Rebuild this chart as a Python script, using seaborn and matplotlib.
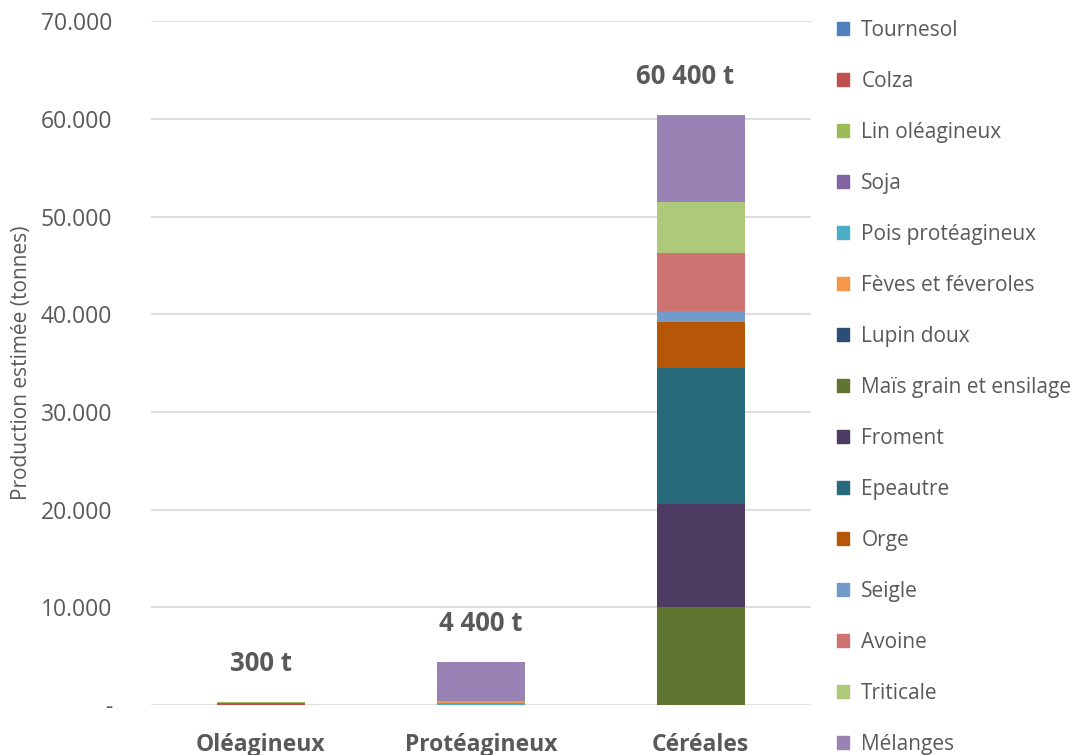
import numpy as np
import pandas as pd
import matplotlib
matplotlib.use("Agg")
import matplotlib.pyplot as plt
import matplotlib.patches as mpatches
import seaborn as sns

categories = ["Oléagineux", "Protéagineux", "Céréales"]
crops = ["Tournesol", "Colza", "Lin oléagineux", "Soja", "Pois protéagineux",
         "Fèves et féveroles", "Lupin doux", "Maïs grain et ensilage", "Froment",
         "Epeautre", "Orge", "Seigle", "Avoine", "Triticale", "Mélanges"]
colors = ["#4F81BD", "#C0504D", "#9BBB59", "#8064A2", "#4BACC6",
          "#F79646", "#2C4D75", "#5F7530", "#4D3B62",
          "#276A7C", "#B65708", "#729ACA", "#CD7371", "#AFC97A", "#9983B5"]

# tonnes per crop, one value per category (Oléagineux, Protéagineux, Céréales)
tournesol = [0, 0, 0]
colza = [250, 0, 0]
lin = [50, 0, 0]
soja = [0, 0, 0]
pois = [0, 200, 0]
feves = [0, 250, 0]
lupin = [0, 0, 0]
mais = [0, 0, 10000]
froment = [0, 0, 10600]
epeautre = [0, 0, 13900]
orge = [0, 0, 4700]
seigle = [0, 0, 1100]
avoine = [0, 0, 6000]
triticale = [0, 0, 5200]
melanges = [0, 3950, 8900]

totals_label = ["300 t", "4 400 t", "60 400 t"]
yticks = [0, 10000, 20000, 30000, 40000, 50000, 60000, 70000]
ytick_labels = ["-", "10.000", "20.000", "30.000", "40.000", "50.000", "60.000", "70.000"]

df = pd.DataFrame([tournesol, colza, lin, soja, pois, feves, lupin, mais, froment,
                   epeautre, orge, seigle, avoine, triticale, melanges],
                  index=crops, columns=categories)
# series are stacked in legend order, from the bottom up
cum = df.cumsum()

sns.set_theme(style="white")
plt.rcParams["font.family"] = ["Open Sans", "DejaVu Sans"]
grey = "#595959"

fig = plt.figure(figsize=(10.78, 7.55), dpi=100)
ax = fig.add_axes([0.140, 0.066, 0.612, 0.906])

# overlay cumulative bars, tallest first
for crop, col in reversed(list(zip(crops, colors))):
    sns.barplot(x=categories, y=cum.loc[crop].values, color=col, width=0.4,
                ax=ax, saturation=1, edgecolor="none", linewidth=0)

ax.set_ylim(0, 70000)
ax.set_xlim(-0.5, 2.5)
ax.set_yticks(yticks)
ax.set_yticklabels(ytick_labels)
ax.yaxis.grid(True, color="#D9D9D9", linewidth=1.2)
ax.set_axisbelow(True)
for s in ax.spines.values():
    s.set_visible(False)
ax.tick_params(axis="y", length=0, pad=28, labelsize=16.5, labelcolor=grey)
ax.tick_params(axis="x", length=0, pad=20, labelsize=16.5, labelcolor=grey)
for lab in ax.get_xticklabels():
    lab.set_fontweight("bold")
ax.set_ylabel("Production estimée (tonnes)", fontsize=15, color=grey, labelpad=6)

# the last total label sits a little left of its bar, as in the source
label_dx = [0, 0, -11]
tot = df.sum().values
for i, t in enumerate(tot):
    ax.annotate(totals_label[i], (i, t), xytext=(label_dx[i], 28), textcoords="offset points",
                ha="center", va="center", fontsize=18.5, fontweight="bold", color=grey)

handles = [mpatches.Patch(color=c, label=n) for n, c in zip(crops, colors)]
leg = fig.legend(handles=handles, loc="upper left", bbox_to_anchor=(0.769, 0.985),
                 frameon=False, fontsize=15, labelcolor=grey, handlelength=0.55,
                 handleheight=0.55, handletextpad=0.6, labelspacing=1.44,
                 borderaxespad=0)

fig.savefig("out.png", dpi=100)
